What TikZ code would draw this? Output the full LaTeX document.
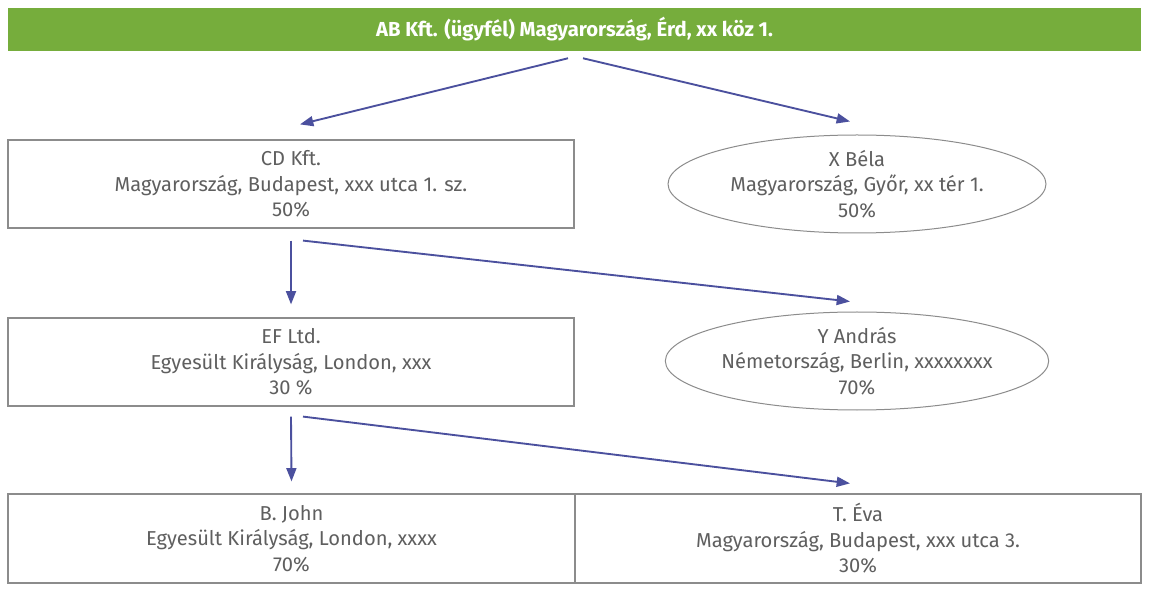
\documentclass[tikz,border=0pt]{standalone}
\usepackage{fontspec}
\setmainfont{Fira Sans}
\usetikzlibrary{arrows.meta,shapes.geometric,calc}
\definecolor{hdrgreen}{HTML}{76AD3C}
\definecolor{txtgray}{HTML}{5F5F5F}
\definecolor{boxgray}{HTML}{8C8C8C}
\definecolor{arrblue}{HTML}{4B509E}
\tikzset{
  box/.style={draw=boxgray, line width=0.9pt, rectangle, minimum width=424.5pt, minimum height=66pt, inner sep=0pt, align=center, text=txtgray, font=\fontsize{15.1}{19.1}\selectfont},
  oval/.style={draw=boxgray, line width=0.75pt, ellipse, minimum width=283.5pt, minimum height=73.5pt, inner sep=0pt, align=center, text=txtgray, font=\fontsize{15.1}{19.1}\selectfont},
  link/.style={draw=arrblue, line width=1.4pt, -{Triangle[length=10pt,width=7.5pt]}},
}
\begin{document}
\begin{tikzpicture}[x=0.75pt,y=-0.75pt]
\useasboundingbox (0,0) rectangle (1149,591);
\fill[white] (0,0) rectangle (1149,591);
\node[fill=hdrgreen, minimum width=849.75pt, minimum height=32.25pt, inner sep=0pt, text=white, font=\fontsize{15.2}{17}\selectfont\bfseries] (ab) at (574.5,29.5) {AB Kft. (ügyfél) Magyarország, Érd, xx köz 1.};
\node[box] (cd) at (291,184) {CD Kft.\\Magyarország, Budapest, xxx utca 1. sz.\\50\%};
\node[oval] (xb) at (857,184) {X Béla\\Magyarország, Győr, xx tér 1.\\50\%};
\node[box] (ef) at (291,362) {EF Ltd.\\Egyesült Királyság, London, xxx\\30 \%};
\node[oval] (ya) at (857,361) {Y András\\Németország, Berlin, xxxxxxxx\\70\%};
\node[box, minimum width=425.25pt, minimum height=66.75pt] (bj) at (291.5,538.5) {B. John\\Egyesült Királyság, London, xxxx\\70\%};
\node[box, minimum width=424.5pt, minimum height=66.75pt] (te) at (858,538.5) {T. Éva\\Magyarország, Budapest, xxx utca 3.\\30\%};
\draw[link] ($(ab.south)+(-6.5,7)$) -- ($(cd.north)+(9,-15)$);
\draw[link] ($(ab.south)+(8.5,7)$) -- ($(xb.north)+(-7,-13)$);
\draw[link] ($(cd.south)+(0,12)$) -- ($(ef.north)+(0,-13)$);
\draw[link] ($(cd.south)+(12,12)$) -- ($(ya.north)+(-7,-10)$);
\draw[link] ($(ef.south)+(0,10)$) -- ($(bj.north)+(0,-12)$);
\draw[link] ($(ef.south)+(12,10)$) -- ($(te.north)+(-8,-10)$);
\end{tikzpicture}
\end{document}
